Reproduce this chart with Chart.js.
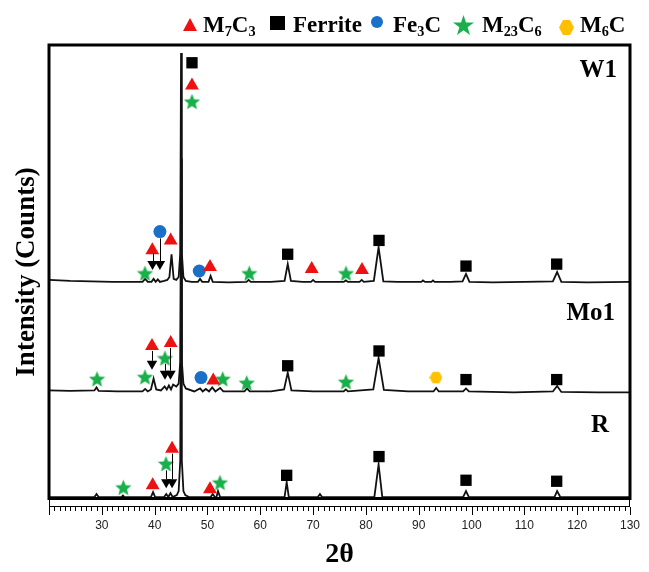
<!DOCTYPE html>
<html>
<head>
<meta charset="utf-8">
<script src="https://cdn.jsdelivr.net/npm/chart.js@4.4.0/dist/chart.umd.min.js"></script>
<style>
  body { margin: 0; background: #fff; }
  #wrap { position: relative; width: 649px; height: 572px; }
  .lg { position: absolute; top: 13px; font: bold 23px "Liberation Serif", "Times New Roman", serif; line-height: 24px; color: #000; white-space: nowrap; }
  .lg sub { font-size: 0.62em; vertical-align: baseline; position: relative; top: 0.3em; }
  .mk { position: absolute; }
</style>
</head>
<body>
<div id="wrap">
  <canvas id="xrd" width="649" height="572"></canvas>
  <svg class="mk" style="left:183px;top:18px" width="14" height="13"><polygon points="7,0 14,13 0,13" fill="#ee1111"/></svg>
  <span class="lg" style="left:203px">M<sub>7</sub>C<sub>3</sub></span>
  <svg class="mk" style="left:270px;top:16px" width="15" height="14"><rect width="15" height="14" fill="#000"/></svg>
  <span class="lg" style="left:293px">Ferrite</span>
  <svg class="mk" style="left:371px;top:16px" width="12" height="12"><circle cx="6" cy="6" r="6" fill="#1a6fc9"/></svg>
  <span class="lg" style="left:393px">Fe<sub>3</sub>C</span>
  <svg class="mk" style="left:453px;top:15px" width="21" height="20"><polygon points="10.5,0 13,7.5 21,7.6 14.6,12.3 17,20 10.5,15.3 4,20 6.4,12.3 0,7.6 8,7.5" fill="#19b04b"/></svg>
  <span class="lg" style="left:482px">M<sub>23</sub>C<sub>6</sub></span>
  <svg class="mk" style="left:559px;top:20px" width="15" height="15"><polygon points="4,0 11,0 15,7.5 11,15 4,15 0,7.5" fill="#ffc000"/></svg>
  <span class="lg" style="left:580px">M<sub>6</sub>C</span>
</div>
<script>
// 2θ positions and intensities (arbitrary counts, stacked patterns)
const w1Theta = [20, 24, 28, 32, 36, 37.7, 38.2, 38.7, 39.4, 39.8, 40.2, 40.6, 41.0, 41.8, 42.4, 42.8, 43.2, 43.6, 44.1, 44.55, 44.85, 45.0, 45.15, 45.45, 45.9, 47.0, 48.2, 48.6, 49.0, 50.2, 50.6, 51.0, 54, 57.4, 57.8, 58.2, 62, 64.6, 65.2, 65.8, 68, 69.6, 70.0, 70.4, 74, 75.8, 76.2, 76.6, 78.8, 79.2, 79.6, 81.5, 82.4, 83.3, 86, 90.5, 90.8, 91.2, 92.4, 92.7, 93.0, 96, 98.3, 98.95, 99.6, 104, 110, 115.4, 116.2, 117.0, 122, 130];
const w1Counts = [223, 222, 221.5, 221, 221, 221, 224, 221, 221, 224, 221, 223.5, 221, 222, 223, 226, 249, 224, 223, 226, 250, 453, 250, 226, 222, 221, 221, 224, 221, 221, 227, 221, 220.5, 221, 223, 221, 221, 222, 239, 222, 221, 221, 223, 221, 221, 221, 222.5, 221, 221, 223, 221, 222, 256, 221.5, 221, 221, 222.5, 221, 221, 222.5, 221, 221, 221.5, 229, 221, 220.5, 221, 221.5, 231, 221, 220.5, 221];

const mo1Theta = [20, 24, 28.6, 29.0, 29.4, 33, 37.7, 38.2, 38.7, 39.3, 39.8, 40.3, 41.2, 41.9, 42.3, 42.7, 43.1, 43.5, 44.1, 44.55, 44.85, 45.0, 45.15, 45.45, 45.9, 47.5, 48.6, 49.1, 49.7, 50.3, 50.9, 51.5, 52.4, 53.0, 57.0, 57.5, 58.0, 62, 64.5, 65.2, 65.9, 70, 75.8, 76.2, 76.6, 81.4, 82.4, 83.4, 88, 92.8, 93.3, 93.8, 98.4, 98.95, 99.5, 108, 115.4, 116.2, 117.0, 124, 130];
const mo1Counts = [111, 110.5, 111, 114, 110.5, 110, 110, 112.5, 110, 112, 123, 112, 111, 115, 112, 116, 112, 117, 115, 118, 140, 346, 140, 118, 113, 110, 113, 110, 112.5, 110, 114, 110, 113.5, 110, 110, 113, 110, 110, 112, 129, 111, 110, 110, 112, 110, 112, 144, 111.5, 110, 110, 113.5, 110, 110, 113, 110, 109, 110, 115.5, 109.5, 109, 109];

const rTheta = [20, 28.6, 29.0, 29.4, 33.7, 34.0, 34.3, 39.3, 39.7, 40.1, 41.8, 42.2, 42.6, 43.0, 43.4, 44.2, 44.55, 44.85, 45.0, 45.15, 45.45, 45.8, 46.5, 50.6, 51.0, 51.4, 51.7, 52.0, 52.4, 64.6, 65.0, 65.4, 70.9, 71.3, 71.7, 81.6, 82.4, 83.1, 98.4, 98.95, 99.5, 115.7, 116.2, 116.8, 130];
const rCounts = [3, 3, 6, 3, 3, 4.5, 3, 3, 8, 3, 3, 6, 3, 7, 3, 5, 9, 40, 246, 40, 9, 5, 3, 3, 6, 3, 3, 9, 3, 3, 18, 3, 3, 6, 3, 3, 36, 3, 3, 9, 3, 3, 9, 3, 3];

// phase markers (2θ, height on the stacked plot)
const m7c3Theta = [39.56, 43.04, 47.07, 50.48, 69.74, 79.26, 39.5, 43.04, 51.1, 39.63, 43.3, 50.48];
const m7c3Counts = [253, 263, 420, 236, 234, 233, 156, 159, 121, 15, 52, 11];
const ferriteTheta = [47.07, 65.19, 82.48, 98.95, 116.12, 65.19, 82.48, 98.95, 116.12, 65.0, 82.48, 98.95, 116.12];
const ferriteCounts = [443, 249, 263, 237, 239, 136, 151, 122, 122, 25, 44, 20, 19];
const fe3cTheta = [41.0, 48.45, 48.78];
const fe3cCounts = [272, 232, 124];
const m23c6Theta = [47.07, 38.17, 57.92, 76.23, 29.09, 38.17, 41.96, 52.89, 57.43, 76.23, 34.07, 42.15, 52.37];
const m23c6Counts = [404, 230, 230, 230, 123, 125, 144, 123, 119, 120, 13, 37, 18];
const m6cTheta = [93.27];
const m6cCounts = [124];
const arrowTheta = [39.6, 41.0, 39.5, 41.96, 43.0, 42.2, 43.3];
const arrowCounts = [239, 239, 138, 128, 128, 18, 18];
// pointer lines: 2θ, from, to
const pointerTheta = [39.6, 41.0, 39.5, 41.96, 43.0, 42.2, 43.3];
const pointerFrom = [250, 265, 151, 138, 154, 30, 47];
const pointerTo = [242, 242, 141, 131, 131, 21, 21];

const sampleNames = ["W1", "Mo1", "R"];

const pts = (xs, ys) => xs.map((x, i) => ({ x: x, y: ys[i] }));

function starImage(size, color) {
    const c = document.createElement("canvas");
    c.width = size; c.height = size;
    const g = c.getContext("2d");
    const R = size / 2, r = R * 0.45;
    g.fillStyle = color;
    g.beginPath();
    for (let i = 0; i < 10; i++) {
        const rad = i % 2 ? r : R;
        const a = -Math.PI / 2 + i * Math.PI / 5;
        g.lineTo(R + rad * Math.cos(a), R + 1 + rad * Math.sin(a));
    }
    g.closePath();
    g.fill();
    return c;
}

function hexImage(size, color) {
    const c = document.createElement("canvas");
    c.width = size; c.height = size;
    const g = c.getContext("2d");
    const R = size / 2;
    g.fillStyle = color;
    g.beginPath();
    for (let i = 0; i < 6; i++) {
        const a = i * Math.PI / 3;
        g.lineTo(R + R * Math.cos(a), R + R * Math.sin(a));
    }
    g.closePath();
    g.fill();
    return c;
}

const starPt = starImage(17, "#19b04b");
const hexPt = hexImage(13, "#ffc000");

const serif = '"Liberation Serif", "Times New Roman", serif';

// frame, tick strip, pointer lines and labels
const decor = {
    id: "decor",
    afterDatasetsDraw(chart) {
        const ctx = chart.ctx;
        const a = chart.chartArea;
        const xs = chart.scales.x, ys = chart.scales.y;
        ctx.save();
        ctx.strokeStyle = "#000";

        ctx.lineWidth = 1;
        pointerTheta.forEach((t, i) => {
            const px = Math.round(xs.getPixelForValue(t)) + 0.5;
            ctx.beginPath();
            ctx.moveTo(px, ys.getPixelForValue(pointerFrom[i]));
            ctx.lineTo(px, ys.getPixelForValue(pointerTo[i]));
            ctx.stroke();
        });

        ctx.lineWidth = 3;
        ctx.strokeRect(a.left, a.top, a.right - a.left, a.bottom - a.top - 1.5);

        ctx.lineWidth = 1;
        ctx.strokeRect(a.left + 0.5, a.bottom - 0.5, a.right - a.left - 1, 7);
        for (let v = 20; v <= 130; v++) {
            const px = Math.round(xs.getPixelForValue(v)) + 0.5;
            ctx.beginPath();
            ctx.moveTo(px, a.bottom + 7);
            ctx.lineTo(px, a.bottom + 7 + (v % 10 === 0 ? 8 : 4));
            ctx.stroke();
        }

        ctx.fillStyle = "#000";
        ctx.font = "bold 25px " + serif;
        ctx.textAlign = "right";
        ctx.textBaseline = "alphabetic";
        ctx.fillText(sampleNames[0], 617, 77);
        ctx.fillText(sampleNames[1], 615, 320);
        ctx.fillText(sampleNames[2], 609, 432);

        ctx.translate(27, 272);
        ctx.rotate(-Math.PI / 2);
        ctx.textAlign = "center";
        ctx.textBaseline = "middle";
        ctx.font = "bold 27px " + serif;
        ctx.fillText("Intensity (Counts)", 0, 0);
        ctx.restore();
    }
};

const lineSet = (label, xs, ys) => ({
    label: label,
    data: pts(xs, ys),
    showLine: true,
    borderColor: "#111",
    borderWidth: 1.8,
    pointRadius: 0,
    tension: 0
});

new Chart(document.getElementById("xrd"), {
    type: "scatter",
    data: {
        datasets: [
            { label: "M7C3", data: pts(m7c3Theta, m7c3Counts), pointStyle: "triangle", pointRadius: 8, backgroundColor: "#ee1111", borderWidth: 0 },
            { label: "Ferrite", data: pts(ferriteTheta, ferriteCounts), pointStyle: "rect", pointRadius: 8, backgroundColor: "#000", borderWidth: 0 },
            { label: "Fe3C", data: pts(fe3cTheta, fe3cCounts), pointStyle: "circle", pointRadius: 6.5, backgroundColor: "#1a6fc9", borderWidth: 0 },
            { label: "M23C6", data: pts(m23c6Theta, m23c6Counts), pointStyle: starPt },
            { label: "M6C", data: pts(m6cTheta, m6cCounts), pointStyle: hexPt },
            { label: "arrows", data: pts(arrowTheta, arrowCounts), pointStyle: "triangle", rotation: 180, pointRadius: 6, backgroundColor: "#000", borderWidth: 0 },
            lineSet(sampleNames[0], w1Theta, w1Counts),
            lineSet(sampleNames[1], mo1Theta, mo1Counts),
            lineSet(sampleNames[2], rTheta, rCounts)
        ]
    },
    options: {
        responsive: false,
        animation: false,
        events: [],
        layout: { padding: { left: 49, right: 19, top: 45, bottom: 0 } },
        plugins: { legend: { display: false }, tooltip: { enabled: false } },
        scales: {
            x: {
                type: "linear",
                min: 20,
                max: 130,
                border: { display: false },
                grid: { display: true, drawOnChartArea: false, color: "rgba(0,0,0,0)", tickLength: 12 },
                ticks: {
                    stepSize: 10,
                    autoSkip: false,
                    maxRotation: 0,
                    padding: 6,
                    color: "#222",
                    font: { family: '"Liberation Sans Narrow", "Liberation Sans", Arial, sans-serif', size: 12 },
                    callback: (v) => (v === 20 ? "" : String(v))
                },
                title: {
                    display: true,
                    text: "2θ",
                    color: "#000",
                    padding: { top: 0, bottom: 0 },
                    font: { family: serif, size: 28, weight: "bold" }
                }
            },
            y: { display: false, min: 0, max: 461 }
        }
    },
    plugins: [decor]
});
</script>
</body>
</html>
